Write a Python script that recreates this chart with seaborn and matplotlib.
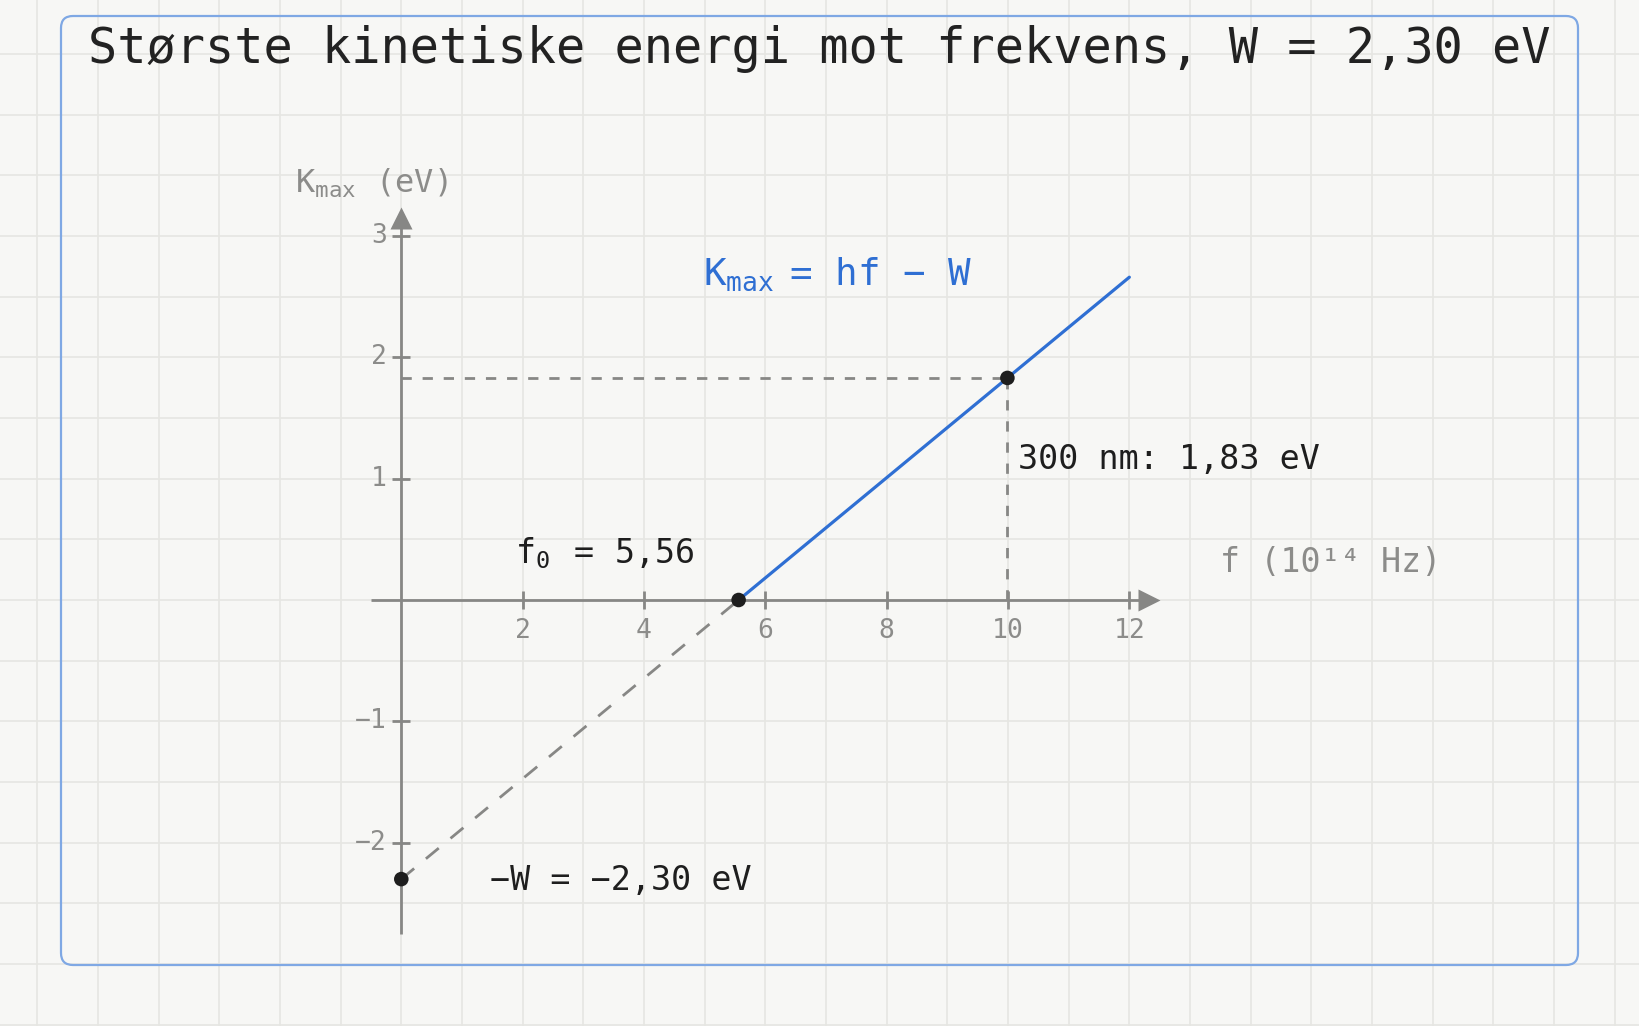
import numpy as np
import matplotlib
matplotlib.use('Agg')
import matplotlib.pyplot as plt
from matplotlib.patches import FancyBboxPatch
from matplotlib.transforms import IdentityTransform
import seaborn as sns

# values (f in 10^14 Hz, K in eV)
f_line = [5.56, 12.0]
k_line = [0.0, 2.66]
f_extrap = [0.0, 5.56]
k_extrap = [-2.30, 0.0]
f_points = [0.0, 5.56, 9.99]
k_points = [-2.30, 0.0, 1.83]

x_ticks = [2, 4, 6, 8, 10, 12]
x_tick_labels = ['2', '4', '6', '8', '10', '12']
y_ticks = [-2, -1, 1, 2, 3]
y_tick_labels = ['−2', '−1', '1', '2', '3']

title = 'Største kinetiske energi mot frekvens, W = 2,30 eV'
x_label = 'f (10¹⁴ Hz)'
y_label = 'K$_{max}$ (eV)'
line_label = r'K$_{max}\!\!$ = hf − W'
f0_label = r'f$_0\,$ = 5,56'
w_label = '−W = −2,30 eV'
point_label = '300 nm: 1,83 eV'

BG = '#f7f7f5'
GRID = '#e6e6e2'
GRAY = '#878785'
GRAY_TXT = '#8c8c8a'
BLUE = '#2f6fd3'
BLACK = '#1e1e1e'

sns.set_theme(style='white')
plt.rcParams['font.family'] = ['DejaVu Sans Mono', 'DejaVu Sans']
plt.rcParams['mathtext.fontset'] = 'custom'
for k in ['rm', 'it', 'tt', 'sf', 'bf']:
    plt.rcParams['mathtext.' + k] = 'DejaVu Sans Mono'

W_PX, H_PX = 1640, 1026
fig = plt.figure(figsize=(W_PX / 100, H_PX / 100), dpi=100, facecolor=BG)
ax = fig.add_axes([0, 0, 1, 1], facecolor=BG)

# pixel position of origin and size of one unit
ox, oy = 401.3, 600.0
ux, uy = 60.67, 121.35
ax.set_xlim(-ox / ux, (W_PX - ox) / ux)
ax.set_ylim(-(H_PX - oy) / uy, oy / uy)

# background grid: 1 unit in f, 0.5 unit in K
ax.set_xticks(np.arange(-6, 21))
ax.set_yticks(np.arange(-3.5, 5.0, 0.5))
ax.tick_params(length=0, labelbottom=False, labelleft=False)
ax.grid(True, color=GRID, lw=1.2)
ax.set_axisbelow(True)
for s in ax.spines.values():
    s.set_visible(False)

# axes with arrows
ax.plot([-0.5, 12.2], [0, 0], color=GRAY, lw=2, solid_capstyle='butt', zorder=2)
ax.plot([12.32], [0], marker='>', ms=16.5, color=GRAY, mec='none', zorder=2)
ax.plot([0, 0], [-2.75, 3.1], color=GRAY, lw=2, solid_capstyle='butt', zorder=2)
ax.plot([0], [3.15], marker='^', ms=16.5, color=GRAY, mec='none', zorder=2)

ax.plot(x_ticks, [0] * len(x_ticks), ls='none', marker='|', ms=13.5, mew=2, color=GRAY, zorder=2)
ax.plot([0] * len(y_ticks), y_ticks, ls='none', marker='_', ms=13.5, mew=2, color=GRAY, zorder=2)

for x, lab in zip(x_ticks, x_tick_labels):
    ax.text(x, -0.253, lab, ha='center', va='center', fontsize=19, color=GRAY_TXT)
for y, lab in zip(y_ticks, y_tick_labels):
    ax.text(-0.236, y, lab, ha='right', va='center', fontsize=19, color=GRAY_TXT)

ax.text(-1.75, 3.354, y_label, ha='left', va='baseline', fontsize=23, color=GRAY_TXT)
ax.text(13.49, 0.233, x_label, ha='left', va='baseline', fontsize=24, color=GRAY_TXT)

# dashed helper lines
ax.plot(f_extrap, k_extrap, color=GRAY, lw=2, ls=(0, (6, 5.5)), zorder=3)
ax.plot([0, f_points[2]], [k_points[2], k_points[2]], color=GRAY, lw=2, ls=(0, (3.7, 3.9)), zorder=3)
ax.plot([f_points[2], f_points[2]], [0, k_points[2]], color=GRAY, lw=2, ls=(0, (3.7, 3.9)), zorder=3)

# K_max line and points
sns.lineplot(x=f_line, y=k_line, ax=ax, color=BLUE, lw=2.3, zorder=4)
sns.scatterplot(x=f_points, y=k_points, ax=ax, s=110, color=BLACK, edgecolor='none', zorder=5)

ax.text(4.98, 2.596, line_label, ha='left', va='baseline', fontsize=27, color=BLUE)
ax.text(1.874, 0.302, f0_label, ha='left', va='baseline', fontsize=24, color=BLACK)
ax.text(10.16, 1.08, point_label, ha='left', va='baseline', fontsize=24, color=BLACK)
ax.text(1.46, -2.39, w_label, ha='left', va='baseline', fontsize=24, color=BLACK)

# framed card
frame = FancyBboxPatch((61, 61), 1578 - 61, 1010 - 61,
                       boxstyle='round,pad=0,rounding_size=12',
                       transform=IdentityTransform(), fill=False,
                       ec='#7fa8e4', lw=1.6, zorder=6)
fig.add_artist(frame)

fig.text(0.4997, 1 - 62.7 / H_PX, title, ha='center', va='baseline',
         fontsize=35, color='#222222')

fig.savefig('out.png', dpi=100, facecolor=BG)
